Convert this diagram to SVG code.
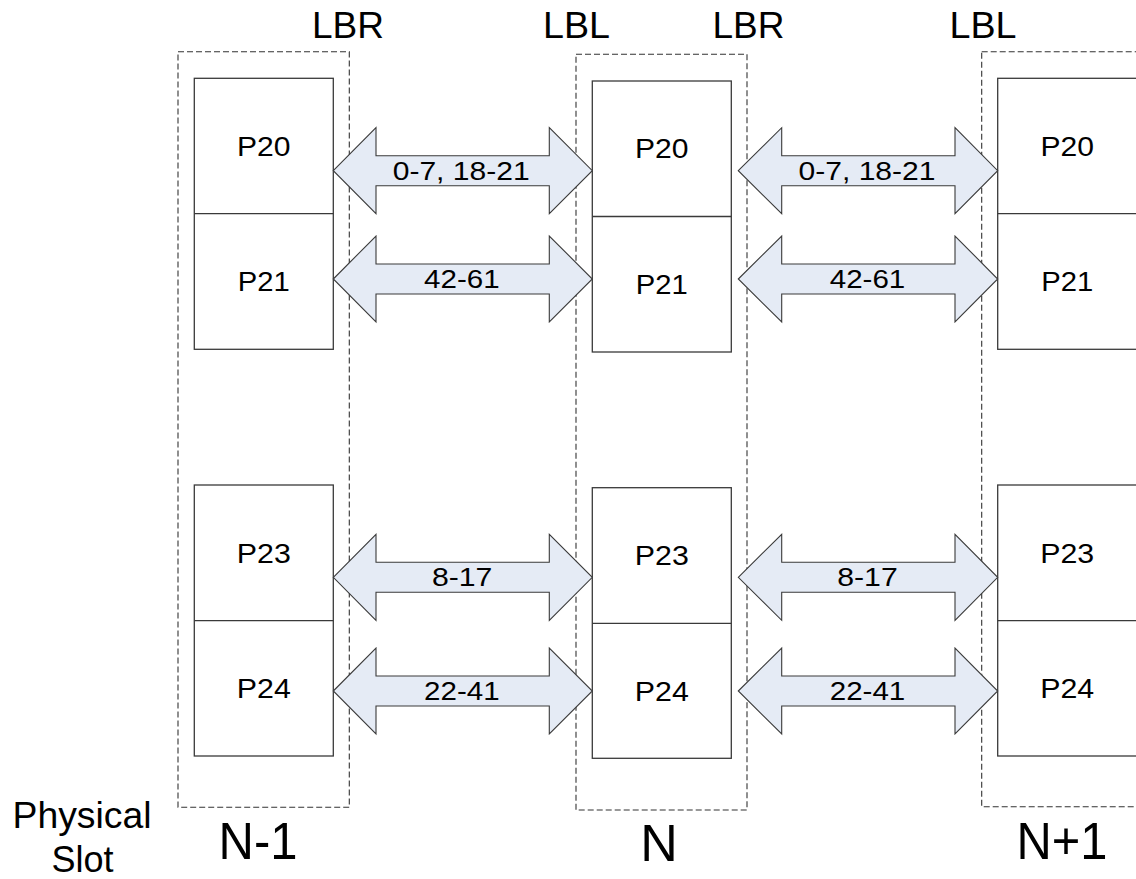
<svg xmlns="http://www.w3.org/2000/svg" width="1136" height="879" viewBox="0 0 1136 879">
<style>
.bg{fill:#ffffff}
.slot{fill:none;stroke:#333333;stroke-width:1.1;stroke-dasharray:6,3}
.box{fill:#ffffff;stroke:#3a3a3a;stroke-width:1.3}
.div{stroke:#3a3a3a;stroke-width:1.3}
.arrow{fill:#e5ebf5;stroke:#3a3a3a;stroke-width:1.1}
.t{font-family:"Liberation Sans",Arial,sans-serif;fill:#000;text-anchor:middle}
.pt{font-size:27px}
.at{font-size:26px}
.hd{font-family:"Liberation Sans",Arial,sans-serif;font-size:36px;fill:#000;text-anchor:middle}
.big{font-size:52px}
.ps{font-size:36px}
</style>
<rect class="bg" x="0" y="0" width="1136" height="879"/>

<!-- header labels -->
<g id="headers">
<text class="hd" x="348" y="38" textLength="72" lengthAdjust="spacingAndGlyphs">LBR</text>
<text class="hd" x="576.5" y="38" textLength="67" lengthAdjust="spacingAndGlyphs">LBL</text>
<text class="hd" x="748.5" y="38" textLength="72" lengthAdjust="spacingAndGlyphs">LBR</text>
<text class="hd" x="983" y="38" textLength="67" lengthAdjust="spacingAndGlyphs">LBL</text>
</g>

<!-- slot N-1 -->
<g id="slot-n-minus-1">
<rect class="slot" x="178" y="51.7" width="171.3" height="755.6"/>
<g id="n1-p20-p21">
<rect class="box" x="194.3" y="78.3" width="139" height="271"/>
<line class="div" x1="194.3" y1="213.7" x2="333.3" y2="213.7"/>
<text class="t pt" x="263.8" y="155.5" textLength="53.5" lengthAdjust="spacingAndGlyphs">P20</text>
<text class="t pt" x="263.8" y="291" textLength="52" lengthAdjust="spacingAndGlyphs">P21</text>
</g>
<g id="n1-p23-p24">
<rect class="box" x="194.3" y="485" width="139" height="271"/>
<line class="div" x1="194.3" y1="620.7" x2="333.3" y2="620.7"/>
<text class="t pt" x="263.8" y="562.5" textLength="54" lengthAdjust="spacingAndGlyphs">P23</text>
<text class="t pt" x="263.8" y="698" textLength="54" lengthAdjust="spacingAndGlyphs">P24</text>
</g>
<text class="t big" x="258" y="859" textLength="79" lengthAdjust="spacingAndGlyphs">N-1</text>
</g>

<!-- slot N -->
<g id="slot-n">
<rect class="slot" x="576" y="54.3" width="171" height="755.7"/>
<g id="n-p20-p21">
<rect class="box" x="592.3" y="81" width="139" height="271"/>
<line class="div" x1="592.3" y1="216.5" x2="731.3" y2="216.5"/>
<text class="t pt" x="661.8" y="158.3" textLength="53.5" lengthAdjust="spacingAndGlyphs">P20</text>
<text class="t pt" x="661.8" y="293.8" textLength="52" lengthAdjust="spacingAndGlyphs">P21</text>
</g>
<g id="n-p23-p24">
<rect class="box" x="592.3" y="487.7" width="139" height="270.6"/>
<line class="div" x1="592.3" y1="623.3" x2="731.3" y2="623.3"/>
<text class="t pt" x="661.8" y="565.2" textLength="54" lengthAdjust="spacingAndGlyphs">P23</text>
<text class="t pt" x="661.8" y="700.5" textLength="54" lengthAdjust="spacingAndGlyphs">P24</text>
</g>
<text class="t big" x="659" y="860.5">N</text>
</g>

<!-- slot N+1 -->
<g id="slot-n-plus-1">
<rect class="slot" x="981.7" y="51.7" width="171" height="755"/>
<g id="np1-p20-p21">
<rect class="box" x="997.7" y="78.3" width="139" height="271"/>
<line class="div" x1="997.7" y1="213.7" x2="1136.7" y2="213.7"/>
<text class="t pt" x="1067.2" y="155.5" textLength="53.5" lengthAdjust="spacingAndGlyphs">P20</text>
<text class="t pt" x="1067.2" y="291" textLength="52" lengthAdjust="spacingAndGlyphs">P21</text>
</g>
<g id="np1-p23-p24">
<rect class="box" x="997.7" y="485" width="139" height="271"/>
<line class="div" x1="997.7" y1="620.7" x2="1136.7" y2="620.7"/>
<text class="t pt" x="1067.2" y="562.5" textLength="54" lengthAdjust="spacingAndGlyphs">P23</text>
<text class="t pt" x="1067.2" y="698" textLength="54" lengthAdjust="spacingAndGlyphs">P24</text>
</g>
<text class="t big" x="1062" y="859" textLength="91" lengthAdjust="spacingAndGlyphs">N+1</text>
</g>

<!-- physical slot label -->
<g id="physical-slot">
<text class="t ps" x="82" y="828.3" textLength="139" lengthAdjust="spacingAndGlyphs">Physical</text>
<text class="t ps" x="82.5" y="871.7">Slot</text>
</g>

<!-- connectors -->
<g id="connectors">
<!-- N-1 to N -->
<polygon class="arrow" points="333.3,170.7 376,127.7 376,155.7 549.3,155.7 549.3,127.7 592.3,170.7 549.3,213.7 549.3,185.7 376,185.7 376,213.7"/>
<polygon class="arrow" points="333.3,279 376,236 376,264 549.3,264 549.3,236 592.3,279 549.3,322 549.3,294 376,294 376,322"/>
<polygon class="arrow" points="333.3,577.3 376,534.3 376,562.3 549.3,562.3 549.3,534.3 592.3,577.3 549.3,620.3 549.3,592.3 376,592.3 376,620.3"/>
<polygon class="arrow" points="333.3,691 376,648 376,676 549.3,676 549.3,648 592.3,691 549.3,734 549.3,706 376,706 376,734"/>
<!-- N to N+1 -->
<polygon class="arrow" points="738.3,170.7 781.7,127.7 781.7,155.7 955,155.7 955,127.7 997.7,170.7 955,213.7 955,185.7 781.7,185.7 781.7,213.7"/>
<polygon class="arrow" points="738.3,279 781.7,236 781.7,264 955,264 955,236 997.7,279 955,322 955,294 781.7,294 781.7,322"/>
<polygon class="arrow" points="738.3,577.3 781.7,534.3 781.7,562.3 955,562.3 955,534.3 997.7,577.3 955,620.3 955,592.3 781.7,592.3 781.7,620.3"/>
<polygon class="arrow" points="738.3,691 781.7,648 781.7,676 955,676 955,648 997.7,691 955,734 955,706 781.7,706 781.7,734"/>
<text class="t at" x="461.2" y="179.5" textLength="137" lengthAdjust="spacingAndGlyphs">0-7, 18-21</text>
<text class="t at" x="461.8" y="288" textLength="75.5" lengthAdjust="spacingAndGlyphs">42-61</text>
<text class="t at" x="462.2" y="586" textLength="60.5" lengthAdjust="spacingAndGlyphs">8-17</text>
<text class="t at" x="461.8" y="700" textLength="75.5" lengthAdjust="spacingAndGlyphs">22-41</text>
<text class="t at" x="867" y="179.5" textLength="137" lengthAdjust="spacingAndGlyphs">0-7, 18-21</text>
<text class="t at" x="867.5" y="288" textLength="75.5" lengthAdjust="spacingAndGlyphs">42-61</text>
<text class="t at" x="867.5" y="586" textLength="60.5" lengthAdjust="spacingAndGlyphs">8-17</text>
<text class="t at" x="867.5" y="700" textLength="75.5" lengthAdjust="spacingAndGlyphs">22-41</text>
</g>
</svg>
